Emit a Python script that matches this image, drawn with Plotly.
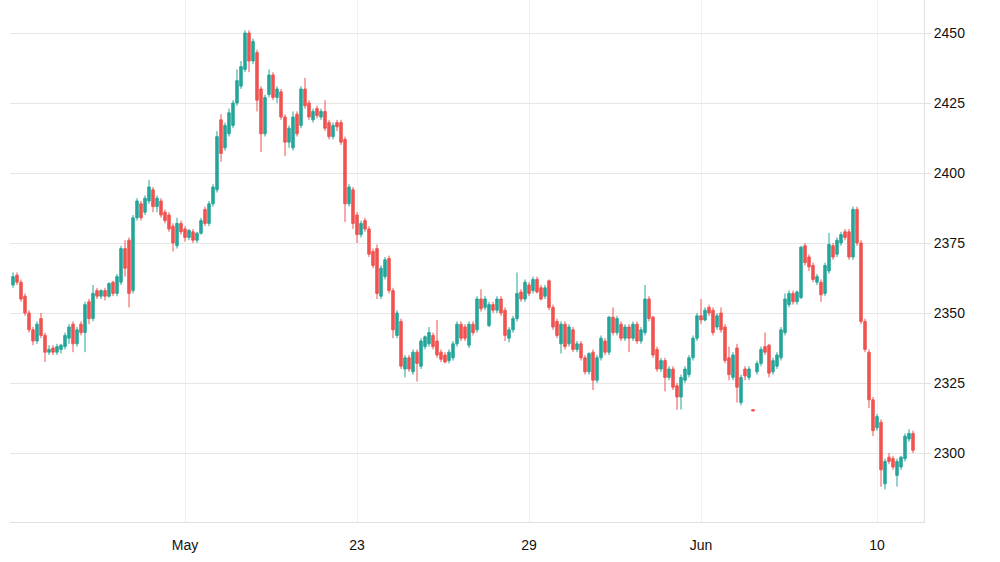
import plotly.graph_objects as go

opens = [2360, 2363.5, 2361, 2356, 2350, 2344, 2340, 2348, 2342, 2336,
         2337.5, 2336, 2337, 2338, 2341, 2346, 2339, 2346, 2343, 2354,
         2348, 2358, 2356, 2358, 2356, 2361, 2357, 2361, 2373, 2376,
         2358, 2384, 2389, 2386, 2390, 2394, 2388, 2390, 2386, 2385,
         2381, 2374, 2382, 2380, 2377, 2379, 2376, 2378.5, 2387, 2382,
         2389, 2394, 2419, 2409, 2414, 2417, 2425, 2431, 2437, 2450,
         2440, 2443, 2430, 2414, 2428, 2435, 2427, 2429, 2420, 2411,
         2409, 2421, 2417, 2430, 2425, 2419, 2423, 2420, 2422, 2418,
         2413, 2418, 2418, 2412, 2389, 2394, 2385, 2378, 2383, 2380,
         2372, 2373, 2356, 2363, 2369.5, 2358, 2342, 2347, 2330, 2334,
         2329, 2336, 2331, 2338, 2339, 2342, 2340, 2336, 2335, 2333,
         2334, 2339, 2346, 2345, 2338.5, 2346, 2344, 2355, 2352, 2345.5,
         2353, 2351, 2355, 2351, 2341, 2344, 2348, 2357.5, 2355, 2360,
         2358, 2362, 2359, 2356, 2361.5, 2352, 2347, 2339, 2346, 2339,
         2344, 2337, 2339, 2334, 2329, 2336, 2326, 2334, 2340, 2336,
         2348.5, 2343, 2346, 2341, 2345, 2341, 2346, 2340, 2343, 2355,
         2348.5, 2337, 2330, 2333, 2327, 2330, 2324, 2320, 2326, 2328,
         2334, 2341, 2349, 2347.5, 2352, 2351, 2345, 2350, 2345, 2334,
         2327, 2337.5, 2318, 2330, 2327, 2315.5, 2329, 2332, 2338, 2338.5,
         2329, 2331, 2334, 2343, 2353, 2357, 2354, 2355.5, 2374, 2370,
         2367, 2361, 2361, 2357, 2365, 2374, 2371, 2375, 2379, 2379,
         2370, 2387, 2375, 2347, 2336, 2319, 2309, 2311, 2289, 2298.5,
         2298, 2292, 2295, 2298, 2305, 2307]

highs = [2364.5, 2364.5, 2362, 2357, 2351, 2345, 2347, 2350, 2343, 2338.5,
         2338.5, 2339, 2339, 2343, 2346, 2347, 2345, 2347, 2354, 2355,
         2360, 2359, 2358.5, 2359, 2361, 2361.5, 2364, 2374, 2376, 2377,
         2385, 2391, 2390, 2392, 2397.5, 2395, 2392, 2391, 2387, 2386,
         2382, 2384, 2383, 2381, 2380, 2380, 2379, 2384, 2388, 2390,
         2396, 2415, 2421, 2418, 2423, 2426, 2437, 2440, 2451, 2451,
         2448, 2444, 2431, 2428, 2437, 2436, 2431, 2430, 2421, 2417,
         2422, 2422, 2431, 2434, 2426, 2423, 2424, 2423, 2426, 2419,
         2418, 2419, 2419, 2413, 2396, 2395, 2386, 2383, 2384, 2381,
         2373, 2374.5, 2367, 2370, 2370.5, 2359, 2351, 2348, 2335, 2335,
         2337, 2337, 2341, 2342, 2345, 2343, 2347.5, 2337, 2336, 2337,
         2340, 2347, 2347, 2346, 2347, 2347, 2356, 2358.5, 2356, 2354,
         2354, 2356, 2356, 2352, 2345, 2349, 2364.5, 2358.5, 2362, 2361,
         2363, 2363, 2360, 2360, 2362, 2353, 2348, 2347, 2347, 2346,
         2345, 2340, 2340, 2335, 2336, 2337, 2335, 2342, 2341, 2349,
         2352, 2349, 2347, 2346, 2346, 2347, 2347, 2345, 2360, 2356,
         2349, 2338, 2334, 2334, 2331, 2331, 2325, 2328, 2331, 2335,
         2342, 2350, 2355, 2352, 2353, 2352, 2350, 2352, 2346, 2338,
         2336, 2339, 2328, 2331, 2331, 2315.5, 2333, 2338, 2343, 2339,
         2334, 2336, 2345, 2357, 2358, 2358, 2358, 2374, 2375, 2371,
         2368, 2364, 2362, 2368, 2378.6, 2375, 2377, 2379, 2380, 2380,
         2388, 2388, 2376, 2348, 2337, 2320, 2314, 2312, 2298, 2300,
         2299, 2298, 2299, 2307, 2308.5, 2308]

lows = [2359, 2360, 2354, 2349, 2343, 2338.5, 2339, 2341, 2332.5, 2335,
        2335, 2335, 2335.5, 2337, 2339, 2336, 2338, 2342, 2336, 2346,
        2347, 2355, 2355, 2354.5, 2355.5, 2356, 2356, 2360, 2363, 2352,
        2357, 2383, 2383, 2385, 2389, 2386, 2386, 2384, 2382, 2379,
        2372, 2373, 2378, 2375.5, 2376, 2375, 2375, 2378, 2381, 2381,
        2388, 2393, 2404, 2408, 2413, 2416, 2424, 2430, 2436, 2436,
        2439, 2422, 2407.5, 2413, 2427, 2426, 2425, 2419, 2406, 2409,
        2408, 2413, 2416, 2423, 2419, 2418, 2419.5, 2419, 2415, 2412,
        2412, 2415, 2410, 2382.5, 2388, 2380, 2375, 2377, 2379, 2370,
        2366, 2355, 2355, 2362, 2357, 2341, 2341, 2330, 2327, 2329,
        2328, 2325.5, 2330, 2337, 2338, 2337, 2334, 2332.5, 2332, 2332,
        2333, 2338, 2340, 2340, 2337.5, 2342, 2343, 2350.5, 2351, 2345,
        2350, 2350, 2349, 2340, 2339.5, 2343, 2347, 2354, 2354, 2356,
        2357, 2357, 2354.5, 2355, 2351, 2344, 2341, 2335.5, 2337, 2338,
        2336, 2336, 2333, 2328, 2328, 2322.5, 2325, 2333, 2335, 2335,
        2342, 2342, 2340, 2340, 2336, 2340, 2339, 2339, 2342, 2347,
        2334, 2329, 2329, 2322, 2326, 2322.5, 2315.4, 2315.5, 2325, 2327,
        2333, 2340, 2346, 2347, 2349, 2342, 2344, 2343, 2332, 2326,
        2326, 2318, 2317, 2326, 2326, 2315, 2328, 2331, 2335, 2327,
        2328, 2330, 2333, 2342, 2352, 2353, 2353, 2355, 2367, 2365,
        2361, 2360, 2354, 2356, 2364, 2369, 2370, 2374, 2376, 2369,
        2369, 2374, 2346, 2336, 2316, 2306, 2308, 2288, 2287, 2296,
        2294, 2288, 2294, 2297, 2304, 2300]

closes = [2363, 2361, 2355, 2350, 2344, 2340, 2346, 2342, 2336, 2337,
          2336, 2338, 2338.5, 2342, 2345, 2339, 2344, 2343, 2353, 2348,
          2357, 2356, 2358, 2356, 2360.5, 2357, 2363, 2373, 2366, 2357,
          2384, 2390, 2384, 2391, 2395, 2388, 2391, 2385, 2383, 2380,
          2375, 2382, 2379, 2377, 2379.5, 2376, 2378.5, 2383, 2382, 2389,
          2395, 2413, 2407, 2417, 2421.5, 2425, 2433, 2438, 2450, 2440,
          2447, 2426, 2414, 2427, 2435, 2427, 2430, 2420, 2411, 2416,
          2420, 2414, 2430, 2424, 2420, 2422, 2420.5, 2422, 2416, 2413,
          2417, 2416.5, 2411, 2389, 2395, 2382, 2378, 2382, 2380, 2371,
          2367, 2357, 2366, 2369, 2358, 2344, 2350, 2331, 2334, 2330,
          2336, 2332, 2340, 2341.5, 2343, 2338, 2335, 2333.5, 2332.5, 2336,
          2339, 2346, 2341, 2341, 2346, 2343, 2355, 2351.5, 2355, 2353,
          2351, 2355, 2350, 2342, 2344, 2348, 2357, 2355, 2361, 2357,
          2362, 2357.5, 2355, 2359, 2352, 2345, 2342, 2346, 2338, 2345,
          2337, 2339, 2334, 2329, 2335.5, 2326, 2334, 2341, 2336, 2348.5,
          2343, 2348, 2341, 2345, 2341, 2346, 2340, 2344, 2355, 2348,
          2335, 2330, 2333, 2327, 2330, 2323.5, 2320, 2327, 2330, 2334,
          2341, 2349, 2347.5, 2351, 2350, 2343, 2349, 2344, 2333, 2328,
          2335, 2323.5, 2327, 2327.5, 2330, 2315, 2332, 2337, 2336, 2328.5,
          2333, 2335, 2344, 2355, 2357, 2354, 2357.5, 2373.5, 2368, 2366.5,
          2362, 2363, 2356.5, 2367, 2374.5, 2370, 2376, 2378, 2377, 2370,
          2387, 2375, 2347, 2337, 2319, 2308, 2313, 2294, 2297, 2297,
          2295, 2297, 2298.5, 2306, 2307, 2301]

candle_index = list(range(len(closes)))

tick_index = [43, 86, 129, 172, 216]
tick_labels = ["May", "23", "29", "Jun", "10"]

price_ticks = [2300, 2325, 2350, 2375, 2400, 2425, 2450]

fig = go.Figure(
    go.Candlestick(
        x=candle_index,
        open=opens,
        high=highs,
        low=lows,
        close=closes,
        increasing=dict(line=dict(color="#26a69a", width=1), fillcolor="#26a69a"),
        decreasing=dict(line=dict(color="#ef5350", width=1), fillcolor="#ef5350"),
        whiskerwidth=0,
        showlegend=False,
        hoverinfo="skip",
    )
)

font_family = "Liberation Sans, Arial, sans-serif"

fig.update_layout(
    width=1000,
    height=562,
    margin=dict(l=10, r=76, t=0, b=40),
    paper_bgcolor="white",
    plot_bgcolor="white",
    font=dict(family=font_family, size=14, color="#111111"),
    showlegend=False,
    boxgap=0.12,
    xaxis=dict(
        range=[-0.75, 227.75],
        rangeslider=dict(visible=False),
        tickmode="array",
        tickvals=tick_index,
        ticktext=tick_labels,
        showgrid=True,
        gridcolor="#f0f0f0",
        gridwidth=1,
        showline=True,
        linecolor="#e0e0e0",
        linewidth=1,
        ticks="",
        ticklabelstandoff=10,
        zeroline=False,
        tickfont=dict(family=font_family, size=14, color="#111111"),
        fixedrange=True,
    ),
    yaxis=dict(
        range=[2275.36, 2461.79],
        side="right",
        tickmode="array",
        tickvals=price_ticks,
        showgrid=True,
        gridcolor="#e6e6e6",
        gridwidth=1,
        showline=True,
        linecolor="#e0e0e0",
        linewidth=1,
        ticks="outside",
        ticklen=6,
        tickcolor="#e0e0e0",
        zeroline=False,
        tickfont=dict(family=font_family, size=14, color="#111111"),
        fixedrange=True,
    ),
)

fig.write_html("out.html")
